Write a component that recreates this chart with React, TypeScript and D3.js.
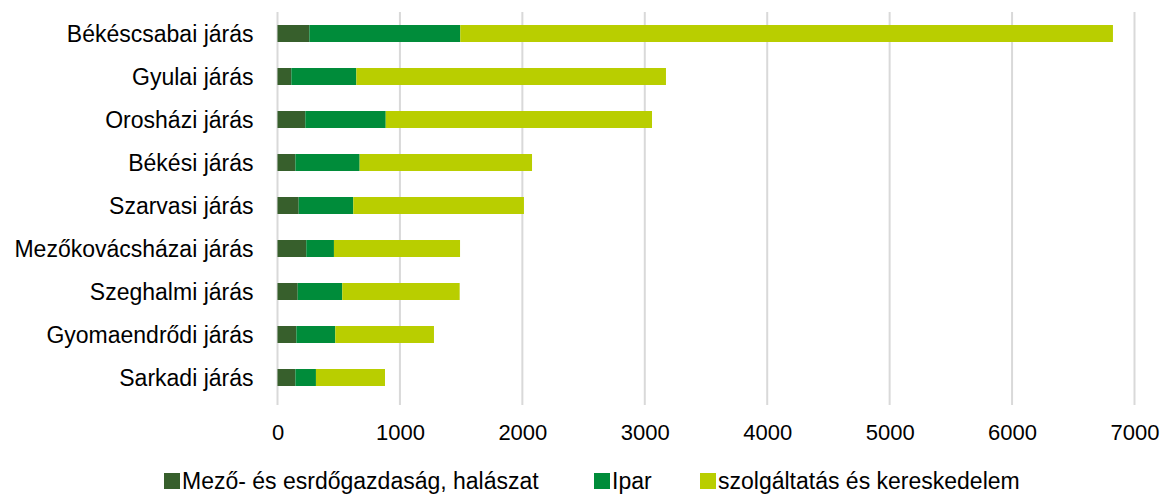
import React, { useEffect, useRef } from 'react';
import * as d3 from 'd3';

const categories = [
  'Békéscsabai járás',
  'Gyulai járás',
  'Orosházi járás',
  'Békési járás',
  'Szarvasi járás',
  'Mezőkovácsházai járás',
  'Szeghalmi járás',
  'Gyomaendrődi járás',
  'Sarkadi járás',
];

const seriesNames = ['Mező- és esrdőgazdaság, halászat', 'Ipar', 'szolgáltatás és kereskedelem'];

const mezogazdasag = [260, 113, 227, 146, 173, 235, 165, 154, 146];
const ipar = [1233, 531, 657, 525, 446, 226, 364, 318, 168];
const szolgaltatas = [5331, 2529, 2175, 1408, 1394, 1030, 959, 806, 564];

const xTicks = [0, 1000, 2000, 3000, 4000, 5000, 6000, 7000];

const colors = ['#375F2C', '#008C3A', '#B9CE00'];

const W = 1167;
const H = 495;
const FONT = '"Liberation Sans", Arial, sans-serif';

export default function App() {
  const svgRef = useRef<SVGSVGElement>(null);

  useEffect(() => {
    const svg = d3.select(svgRef.current);
    svg.selectAll('*').remove();

    const left = 277.5;
    const right = 1134.5;
    const top = 12;
    const bottom = 399;

    const rows = categories.map((c, i) => ({
      name: c,
      s0: mezogazdasag[i],
      s1: ipar[i],
      s2: szolgaltatas[i],
    }));

    const stack = d3.stack<any>().keys(['s0', 's1', 's2']);
    const series = stack(rows);

    const x = d3.scaleLinear().domain([0, 7000]).range([left, right]);
    const y = d3.scaleBand()
      .domain(categories)
      .range([top, bottom])
      .paddingInner(0.605)
      .paddingOuter(0.3025);

    // rácsvonalak
    svg.append('g')
      .selectAll('line')
      .data(xTicks)
      .enter()
      .append('line')
      .attr('x1', d => x(d))
      .attr('x2', d => x(d))
      .attr('y1', top)
      .attr('y2', bottom + 6)
      .attr('stroke', '#d9d9d9')
      .attr('stroke-width', 2);

    // sávok
    svg.append('g')
      .selectAll('g')
      .data(series)
      .enter()
      .append('g')
      .attr('fill', (_, i) => colors[i])
      .selectAll('rect')
      .data(d => d)
      .enter()
      .append('rect')
      .attr('x', d => x(d[0]))
      .attr('width', d => x(d[1]) - x(d[0]))
      .attr('y', d => y(d.data.name)!)
      .attr('height', y.bandwidth());

    // kategória feliratok
    svg.append('g')
      .selectAll('text')
      .data(categories)
      .enter()
      .append('text')
      .attr('x', left - 24)
      .attr('y', d => y(d)! + y.bandwidth() / 2)
      .attr('dy', '0.36em')
      .attr('text-anchor', 'end')
      .attr('font-family', FONT)
      .attr('font-size', 23)
      .attr('fill', '#000')
      .text(d => d);

    // x tengely feliratok
    const xAxis = svg.append('g')
      .attr('transform', `translate(0, ${bottom})`)
      .call(d3.axisBottom(x).tickValues(xTicks).tickSize(0).tickPadding(25).tickFormat(d3.format('d')));
    xAxis.select('.domain').remove();
    xAxis.selectAll('text')
      .attr('font-family', FONT)
      .attr('font-size', 22)
      .attr('fill', '#000');

    // jelmagyarázat
    const legendX = [164, 594, 700];
    const legend = svg.append('g');
    seriesNames.forEach((name, i) => {
      legend.append('rect')
        .attr('x', legendX[i])
        .attr('y', 473)
        .attr('width', 16)
        .attr('height', 16)
        .attr('fill', colors[i]);
      legend.append('text')
        .attr('x', legendX[i] + 18)
        .attr('y', 489)
        .attr('font-family', FONT)
        .attr('font-size', 23)
        .attr('fill', '#000')
        .text(name);
    });
  }, []);

  return (
    <svg
      ref={svgRef}
      width={W}
      height={H}
      style={{ position: 'absolute', left: 0, top: 0, background: '#fff' }}
    />
  );
}
